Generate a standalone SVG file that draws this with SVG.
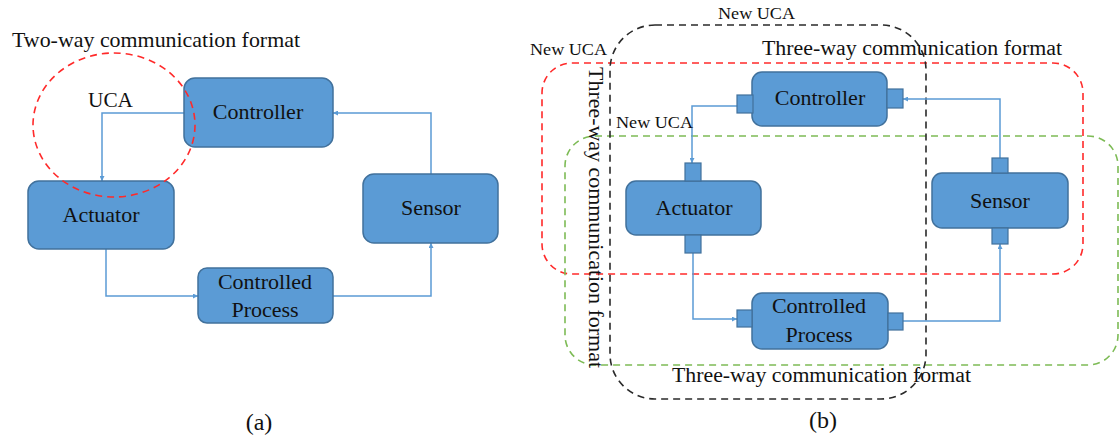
<svg xmlns="http://www.w3.org/2000/svg" width="1120" height="440" viewBox="0 0 1120 440">
  <style>
    .node { fill: #5b9bd5; stroke: #41719c; stroke-width: 1.5; }
    .port { fill: #5b9bd5; stroke: #41719c; stroke-width: 1.2; }
    .link { fill: none; stroke: #5b9bd5; stroke-width: 1.5; }
    .zone { fill: none; stroke-width: 1.6; stroke-dasharray: 7 5; }
    .red { stroke: #ff2a2a; }
    .green { stroke: #7dbb55; }
    .black { stroke: #2a2a2a; }
    text { font-family: 'Liberation Serif', 'DejaVu Serif', serif; fill: #111; }
    .nlbl { font-size: 22px; text-anchor: middle; }
  </style>
  <defs>
    <marker id="arrow" viewBox="0 0 10 10" refX="10" refY="5" markerWidth="5" markerHeight="5" markerUnits="userSpaceOnUse" orient="auto">
      <path d="M0,0 L10,5 L0,10 z" fill="#5b9bd5"/>
    </marker>
  </defs>
  <rect width="1120" height="440" fill="#ffffff"/>

  <!-- ===== (a) two-way loop ===== -->
  <g id="connectors-a">
    <path class="link" d="M184,113 H102 V181" marker-end="url(#arrow)"/>
    <path class="link" d="M106,249 V296 H198" marker-end="url(#arrow)"/>
    <path class="link" d="M333,296 H431 V243" marker-end="url(#arrow)"/>
    <path class="link" d="M431,174 V113 H333" marker-end="url(#arrow)"/>
  </g>
  <g id="a-controller">
    <rect class="node" x="184" y="78" width="149" height="69" rx="11"/>
    <text class="nlbl" x="258" y="119">Controller</text>
  </g>
  <g id="a-actuator">
    <rect class="node" x="28" y="181" width="146" height="68" rx="11"/>
    <text class="nlbl" x="101" y="222">Actuator</text>
  </g>
  <g id="a-sensor">
    <rect class="node" x="363" y="174" width="135" height="69" rx="11"/>
    <text class="nlbl" x="431" y="215">Sensor</text>
  </g>
  <g id="a-process">
    <rect class="node" x="198" y="268" width="135" height="55" rx="9"/>
    <text class="nlbl" x="265" y="289">Controlled</text>
    <text class="nlbl" x="265" y="317">Process</text>
  </g>
  <g id="a-uca-zone">
    <ellipse class="zone red" cx="114" cy="125" rx="81" ry="72"/>
    <text x="88" y="107" font-size="20" textLength="45" lengthAdjust="spacingAndGlyphs">UCA</text>
  </g>
  <text x="12" y="47" font-size="21" textLength="288" lengthAdjust="spacingAndGlyphs">Two-way communication format</text>
  <text x="259" y="430" font-size="24" text-anchor="middle">(a)</text>

  <!-- ===== (b) three-way loop ===== -->
  <g id="zones-b">
    <rect class="zone red" x="542" y="63" width="541" height="211" rx="30"/>
    <rect class="zone green" x="565" y="136" width="553" height="229" rx="30"/>
    <rect class="zone black" x="610" y="25" width="316" height="374" rx="45"/>
  </g>
  <g id="connectors-b">
    <path class="link" d="M737,106 H692 V163" marker-end="url(#arrow)"/>
    <path class="link" d="M693,253 V319 H737" marker-end="url(#arrow)"/>
    <path class="link" d="M903,321 H1000 V244" marker-end="url(#arrow)"/>
    <path class="link" d="M1000,158 V99 H903" marker-end="url(#arrow)"/>
  </g>
  <g id="b-controller">
    <rect class="node" x="752" y="72" width="135" height="54" rx="10"/>
    <rect class="port" x="737" y="95" width="16" height="18"/>
    <rect class="port" x="887" y="89" width="16" height="19"/>
    <text class="nlbl" x="820" y="105">Controller</text>
  </g>
  <g id="b-actuator">
    <rect class="node" x="626" y="181" width="135" height="54" rx="10"/>
    <rect class="port" x="685" y="163" width="16" height="18"/>
    <rect class="port" x="685" y="235" width="16" height="18"/>
    <text class="nlbl" x="694" y="215">Actuator</text>
  </g>
  <g id="b-sensor">
    <rect class="node" x="932" y="173" width="136" height="55" rx="10"/>
    <rect class="port" x="992" y="158" width="16" height="15"/>
    <rect class="port" x="992" y="228" width="16" height="16"/>
    <text class="nlbl" x="1000" y="208">Sensor</text>
  </g>
  <g id="b-process">
    <rect class="node" x="752" y="293" width="136" height="56" rx="10"/>
    <rect class="port" x="737" y="310" width="15" height="17"/>
    <rect class="port" x="888" y="313" width="15" height="17"/>
    <text class="nlbl" x="819" y="313">Controlled</text>
    <text class="nlbl" x="819" y="342">Process</text>
  </g>
  <g id="labels-b">
    <text x="718" y="19" font-size="16" textLength="77" lengthAdjust="spacingAndGlyphs">New UCA</text>
    <text x="530" y="55" font-size="16" textLength="77" lengthAdjust="spacingAndGlyphs">New UCA</text>
    <text x="616" y="128" font-size="16" textLength="77" lengthAdjust="spacingAndGlyphs">New UCA</text>
    <text x="762" y="55" font-size="20" textLength="300" lengthAdjust="spacingAndGlyphs">Three-way communication format</text>
    <text x="672" y="382" font-size="20" textLength="299" lengthAdjust="spacingAndGlyphs">Three-way communication format</text>
    <text transform="translate(589,67) rotate(90)" font-size="20" textLength="301" lengthAdjust="spacingAndGlyphs">Three-way communication format</text>
  </g>
  <text x="823" y="428" font-size="24" text-anchor="middle">(b)</text>
</svg>
